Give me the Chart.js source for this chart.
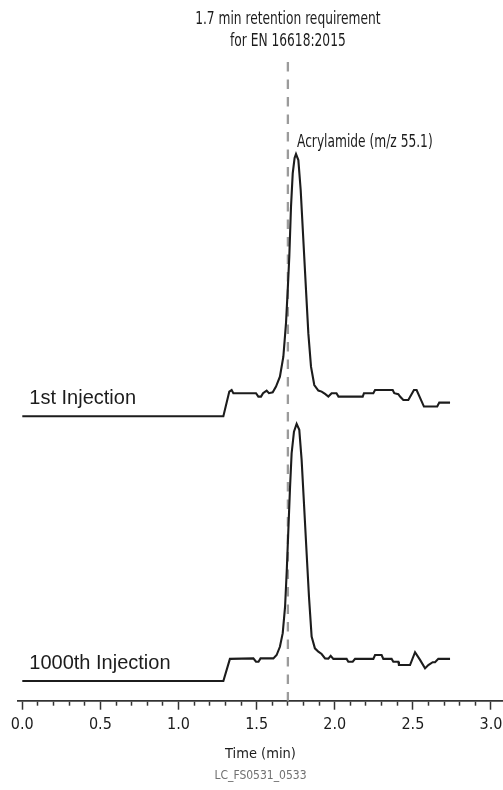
<!DOCTYPE html>
<html>
<head>
<meta charset="utf-8">
<script src="https://cdn.jsdelivr.net/npm/chart.js@4.4.1/dist/chart.umd.min.js"></script>
<style>
  html, body { margin: 0; padding: 0; background: #ffffff; }
  #wrap { width: 503px; height: 790px; }
</style>
</head>
<body>
<div id="wrap"><canvas id="c" width="503" height="790"></canvas></div>
<script>
// ---- data (time in min, relative response in %) ----
const timesFirst = [0.000, 1.287, 1.325, 1.340, 1.351, 1.496, 1.511, 1.528, 1.541, 1.564, 1.579, 1.603, 1.624, 1.649, 1.671, 1.688, 1.699, 1.709, 1.720, 1.731, 1.743, 1.752, 1.767, 1.782, 1.799, 1.816, 1.831, 1.848, 1.869, 1.895, 1.916, 1.938, 1.959, 1.980, 2.011, 2.024, 2.179, 2.187, 2.247, 2.258, 2.371, 2.381, 2.407, 2.418, 2.439, 2.471, 2.507, 2.524, 2.571, 2.656, 2.669, 2.738];
const valuesFirst = [0, 0, 9.4, 10.0, 8.8, 8.8, 7.5, 7.5, 8.8, 9.8, 8.8, 9.1, 11.3, 15.1, 22.7, 35.5, 48.2, 60.8, 79.9, 92.6, 98.5, 100, 97.7, 86.3, 67.2, 48.2, 31.6, 18.9, 11.9, 9.8, 9.4, 8.5, 7.5, 8.8, 8.8, 7.5, 7.5, 8.8, 8.8, 10.0, 10.0, 8.8, 8.4, 7.5, 6.2, 6.2, 10.0, 10.0, 3.7, 3.7, 5.2, 5.2];

const timesThousandth = [0.000, 1.287, 1.329, 1.479, 1.496, 1.512, 1.525, 1.607, 1.628, 1.649, 1.667, 1.682, 1.693, 1.703, 1.714, 1.724, 1.739, 1.756, 1.773, 1.788, 1.803, 1.820, 1.835, 1.852, 1.873, 1.895, 1.916, 1.938, 1.959, 1.974, 1.991, 2.076, 2.087, 2.115, 2.130, 2.247, 2.258, 2.300, 2.311, 2.364, 2.375, 2.407, 2.411, 2.482, 2.514, 2.546, 2.578, 2.599, 2.627, 2.642, 2.663, 2.738];
const valuesThousandth = [0, 0, 8.6, 8.8, 7.5, 7.5, 8.8, 8.8, 10.1, 13.3, 18.6, 28.9, 43.2, 58.8, 75.6, 88.6, 97.0, 100, 97.7, 86.0, 69.1, 49.7, 32.8, 17.3, 12.7, 11.4, 10.5, 8.8, 8.7, 9.8, 8.6, 8.6, 7.5, 7.5, 8.6, 8.6, 10.1, 10.1, 8.6, 8.6, 7.5, 7.5, 6.2, 6.2, 11.2, 8.2, 4.9, 6.2, 7.3, 7.3, 8.6, 8.6];

const traceNames = ['1st Injection', '1000th Injection'];
const peakName = 'Acrylamide (m/z 55.1)';
const requirementTime = 1.7;
const requirementText = ['1.7 min retention requirement', 'for EN 16618:2015'];

const majorTickValues = [0.0, 0.5, 1.0, 1.5, 2.0, 2.5, 3.0];
const tickLabels = ['0.0', '0.5', '1.0', '1.5', '2.0', '2.5', '3.0'];
const axisTitle = 'Time (min)';
const figureCode = 'LC_FS0531_0533';

// ---- styling ----
const NARROW = "'DejaVu Sans Condensed', 'Liberation Sans', sans-serif";
const REGULAR = "'Liberation Sans', Arial, sans-serif";
const INK = '#1c1c1c';
const SQUEEZE = 0.8;   // horizontal condensing of the annotation text

const minorTickValues = [];
for (let i = 0; i <= 30; i++) minorTickValues.push(i / 10);

function toPoints(xs, ys) { return xs.map((x, i) => ({ x: x, y: ys[i] })); }
function isMajor(v) { return majorTickValues.some(m => Math.abs(m - v) < 1e-6); }

function condensedText(ctx, text, x, y, align) {
  ctx.save();
  ctx.translate(x, y);
  ctx.scale(SQUEEZE, 1);
  ctx.textAlign = align;
  ctx.fillText(text, 0, 0);
  ctx.restore();
}

const annotationPlugin = {
  id: 'chromAnnotations',
  beforeDatasetsDraw(chart) {
    const { ctx, chartArea, scales } = chart;
    const px = scales.x.getPixelForValue(requirementTime);
    ctx.save();
    ctx.strokeStyle = '#9b9b9b';
    ctx.lineWidth = 2.3;
    ctx.setLineDash([9.5, 8]);
    ctx.beginPath();
    ctx.moveTo(px, chartArea.top);
    ctx.lineTo(px, chartArea.bottom);
    ctx.stroke();
    ctx.restore();
  },
  afterDraw(chart) {
    const { ctx, chartArea, scales } = chart;
    const px = scales.x.getPixelForValue(requirementTime);
    ctx.save();
    ctx.fillStyle = INK;
    ctx.textBaseline = 'middle';
    ctx.font = "17px " + NARROW;
    condensedText(ctx, requirementText[0], px, chartArea.top - 42, 'center');
    condensedText(ctx, requirementText[1], px, chartArea.top - 20, 'center');

    // peak label next to the apex of the first trace
    const meta = chart.getDatasetMeta(0);
    let apex = 0;
    valuesFirst.forEach((v, i) => { if (v > valuesFirst[apex]) apex = i; });
    const el = meta.data[apex];
    condensedText(ctx, peakName, el.x + 1, el.y - 11, 'left');

    // trace labels
    ctx.font = "20px " + REGULAR;
    ctx.textBaseline = 'alphabetic';
    ctx.textAlign = 'left';
    const x0 = scales.x.getPixelForValue(0) + 7;
    ctx.fillText(traceNames[0], x0, scales.yTop.getPixelForValue(0) - 12);
    ctx.fillText(traceNames[1], x0, scales.yBot.getPixelForValue(0) - 12);
    ctx.restore();
  }
};

new Chart(document.getElementById('c'), {
  type: 'line',
  data: {
    datasets: [
      { label: traceNames[0], data: toPoints(timesFirst, valuesFirst), yAxisID: 'yTop',
        borderColor: INK, borderWidth: 2.1, pointRadius: 0, fill: false, tension: 0 },
      { label: traceNames[1], data: toPoints(timesThousandth, valuesThousandth), yAxisID: 'yBot',
        borderColor: INK, borderWidth: 2.1, pointRadius: 0, fill: false, tension: 0 }
    ]
  },
  options: {
    responsive: false,
    animation: false,
    devicePixelRatio: 1,
    layout: { padding: { top: 62, left: 18, right: 0, bottom: 6.8 } },
    plugins: {
      legend: { display: false },
      tooltip: { enabled: false },
      title: { display: false },
      subtitle: {
        display: true, position: 'bottom', text: figureCode, color: '#707070',
        font: { family: NARROW, size: 12, weight: 'normal' },
        padding: { top: 5.5, bottom: 0 }
      }
    },
    scales: {
      yBot: { type: 'linear', position: 'left', stack: 'traces', stackWeight: 1,
        min: -7.67, max: 101.55, display: false },
      yTop: { type: 'linear', position: 'left', stack: 'traces', stackWeight: 1.275,
        min: -1.41, max: 135.1, display: false },
      x: {
        type: 'linear', position: 'bottom', min: -0.0275, max: 3.077,
        afterBuildTicks: (scale) => { scale.ticks = minorTickValues.map(v => ({ value: v })); },
        ticks: {
          autoSkip: false, maxRotation: 0, minRotation: 0, padding: 0, color: INK,
          font: { family: NARROW, size: 16 },
          callback: (v) => {
            const i = majorTickValues.findIndex(m => Math.abs(m - v) < 1e-6);
            return i >= 0 ? tickLabels[i] : '';
          }
        },
        grid: {
          drawOnChartArea: false, drawTicks: true, tickLength: 14.5,
          tickColor: '#333333', tickWidth: 1.5,
          tickBorderDash: (ctx) => (ctx.tick && isMajor(ctx.tick.value)) ? [8, 100] : [4, 100]
        },
        border: { display: true, color: '#333333', width: 1.7 },
        title: {
          display: true, text: axisTitle, color: INK,
          font: { family: NARROW, size: 14.5 },
          padding: { top: 11.5, bottom: 0 }
        }
      }
    }
  },
  plugins: [annotationPlugin]
});
</script>
</body>
</html>
